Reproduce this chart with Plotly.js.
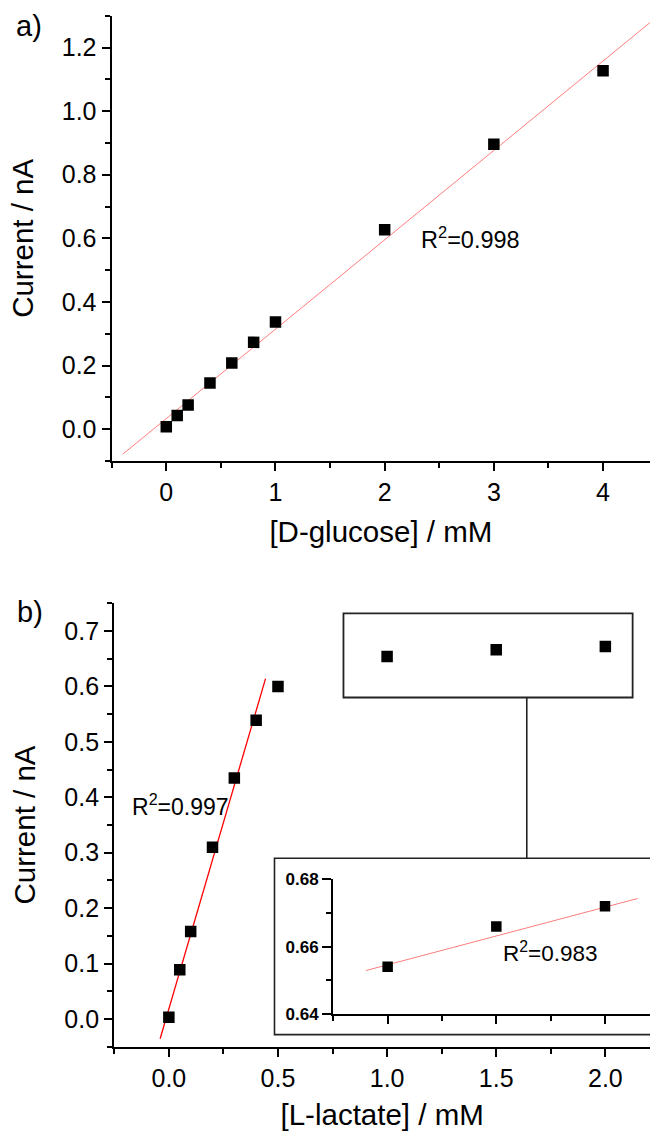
<!DOCTYPE html>
<html><head><meta charset="utf-8">
<script src="https://cdn.plot.ly/plotly-3.0.1.min.js"></script>
<style>html,body{margin:0;padding:0;background:#fff}#chart{width:650px;height:1132px}</style>
</head><body><div id="chart"></div>
<script>
// Panel a) D-glucose
const glucoseConc = [0, 0.1, 0.2, 0.4, 0.6, 0.8, 1, 2, 3, 4];
const glucoseCurrent = [0.008, 0.043, 0.076, 0.145, 0.208, 0.273, 0.337, 0.627, 0.896, 1.127];
const glucoseFitX = [-0.4, 4.5];
const glucoseFitY = [-0.079, 1.298];
const glucoseR2 = "R<sup>2</sup>=0.998";

// Panel b) L-lactate (linear range)
const lactateConc = [0, 0.05, 0.1, 0.2, 0.3, 0.4, 0.5];
const lactateCurrent = [0.003, 0.089, 0.158, 0.310, 0.435, 0.539, 0.600];
const lactateFitX = [-0.04, 0.443];
const lactateFitY = [-0.0356, 0.614];
const lactateR2 = "R<sup>2</sup>=0.997";

// Panel b) L-lactate (high range, also shown in inset)
const lactateHighConc = [1.0, 1.5, 2.0];
const lactateHighCurrent = [0.654, 0.666, 0.672];
const insetFitX = [0.9, 2.15];
const insetFitY = [0.6529, 0.6743];
const insetR2 = "R<sup>2</sup>=0.983";

const xTitleA = "[D-glucose] / mM";
const xTitleB = "[L-lactate] / mM";
const yTitle = "Current / nA";

const FONT = "'Liberation Sans', Arial, sans-serif";
const W = 650, H = 1132;
const px = v => v / W;
const py = v => 1 - v / H;

const sq = {symbol: 'square', size: 11.5, color: '#000', line: {width: 0}};

const traces = [
  {x: glucoseFitX, y: glucoseFitY, xaxis: 'x', yaxis: 'y', mode: 'lines',
   line: {color: 'rgb(255,125,125)', width: 1}, hoverinfo: 'skip'},
  {x: glucoseConc, y: glucoseCurrent, xaxis: 'x', yaxis: 'y', mode: 'markers', marker: sq},
  {x: lactateFitX, y: lactateFitY, xaxis: 'x2', yaxis: 'y2', mode: 'lines',
   line: {color: '#ff0000', width: 1.3}, hoverinfo: 'skip'},
  {x: lactateConc, y: lactateCurrent, xaxis: 'x2', yaxis: 'y2', mode: 'markers', marker: sq},
  {x: lactateHighConc, y: lactateHighCurrent, xaxis: 'x2', yaxis: 'y2', mode: 'markers', marker: sq},
  {x: insetFitX, y: insetFitY, xaxis: 'x3', yaxis: 'y3', mode: 'lines',
   line: {color: 'rgb(255,125,125)', width: 1}, hoverinfo: 'skip'},
  {x: lactateHighConc, y: lactateHighCurrent, xaxis: 'x3', yaxis: 'y3', mode: 'markers',
   marker: {symbol: 'square', size: 10.5, color: '#000', line: {width: 0}}}
];

const baseAxis = {
  showline: true, linecolor: '#000', linewidth: 2.2, mirror: false,
  ticks: 'outside', ticklen: 8, tickwidth: 2, tickcolor: '#000',
  showgrid: false, zeroline: false, fixedrange: true,
  tickfont: {family: FONT, size: 25, color: '#000'}
};
const titleFont = {family: FONT, size: 29.5, color: '#000'};

const layout = {
  width: W, height: H,
  margin: {l: 0, r: 0, t: 0, b: 0},
  paper_bgcolor: '#fff', plot_bgcolor: 'rgba(0,0,0,0)',
  showlegend: false,
  font: {family: FONT, color: '#000'},
  xaxis: Object.assign({}, baseAxis, {
    domain: [px(111.7), 1], anchor: 'y', range: [-0.5, 4.43],
    tick0: 0, dtick: 1,
    minor: {dtick: 0.5, tick0: 0, ticks: 'outside', ticklen: 5, tickwidth: 2, tickcolor: '#000', showgrid: false},
    title: {text: xTitleA, font: titleFont, standoff: 16}
  }),
  yaxis: Object.assign({}, baseAxis, {
    domain: [py(461), py(15.7)], anchor: 'x', range: [-0.1, 1.3],
    tick0: 0, dtick: 0.2, tickformat: '.1f',
    minor: {dtick: 0.1, tick0: 0, ticks: 'outside', ticklen: 5, tickwidth: 2, tickcolor: '#000', showgrid: false},
    title: {text: yTitle, font: titleFont, standoff: 20}
  }),
  xaxis2: Object.assign({}, baseAxis, {
    domain: [px(114.3), 1], anchor: 'y2', range: [-0.25, 2.2046],
    tick0: 0, dtick: 0.5, tickformat: '.1f',
    minor: {dtick: 0.25, tick0: 0, ticks: 'outside', ticklen: 5, tickwidth: 2, tickcolor: '#000', showgrid: false},
    title: {text: xTitleB, font: titleFont, standoff: 14}
  }),
  yaxis2: Object.assign({}, baseAxis, {
    domain: [py(1046.7), py(603.3)], anchor: 'x2', range: [-0.05, 0.75],
    tick0: 0, dtick: 0.1, tickformat: '.1f',
    minor: {dtick: 0.05, tick0: 0, ticks: 'outside', ticklen: 5, tickwidth: 2, tickcolor: '#000', showgrid: false},
    title: {text: yTitle, font: titleFont, standoff: 20}
  }),
  xaxis3: Object.assign({}, baseAxis, {
    domain: [px(333.3), 1], anchor: 'y3', range: [0.75, 2.207],
    tick0: 0, dtick: 0.5, showticklabels: false, linewidth: 2.2,
    minor: {dtick: 0.25, tick0: 0, ticks: 'outside', ticklen: 5, tickwidth: 2, tickcolor: '#000', showgrid: false}
  }),
  yaxis3: Object.assign({}, baseAxis, {
    domain: [py(1014), py(879.3)], anchor: 'x3', range: [0.64, 0.68],
    tick0: 0.64, dtick: 0.02, tickformat: '.2f', ticklen: 9,
    tickfont: {family: FONT, size: 17, color: '#000', weight: 'bold'},
    minor: {dtick: 0.01, tick0: 0.64, ticks: 'outside', ticklen: 5, tickwidth: 2, tickcolor: '#000', showgrid: false}
  }),
  shapes: [
    {type: 'rect', xref: 'x2', yref: 'y2', x0: 0.8, x1: 2.125, y0: 0.58, y1: 0.732,
     line: {color: '#222', width: 1.8}, fillcolor: 'rgba(0,0,0,0)', layer: 'below'},
    {type: 'line', xref: 'x2', yref: 'y2', x0: 1.64, x1: 1.64, y0: 0.58, y1: 0.29,
     line: {color: '#222', width: 1.6}},
    {type: 'rect', xref: 'x2', yref: 'y2', x0: 0.484, x1: 2.4, y0: -0.0283, y1: 0.29,
     line: {color: '#222', width: 1.6}, fillcolor: '#fff', layer: 'below'}
  ],
  annotations: [
    {text: 'a)', xref: 'paper', yref: 'paper', x: px(14), y: py(26), xanchor: 'left', yanchor: 'middle',
     showarrow: false, font: {family: FONT, size: 29, color: '#000'}},
    {text: 'b)', xref: 'paper', yref: 'paper', x: px(15), y: py(612), xanchor: 'left', yanchor: 'middle',
     showarrow: false, font: {family: FONT, size: 29, color: '#000'}},
    {text: glucoseR2, xref: 'x', yref: 'y', x: 2.31, y: 0.601, xanchor: 'left', yanchor: 'middle',
     showarrow: false, font: {family: FONT, size: 23.5, color: '#000'}},
    {text: lactateR2, xref: 'x2', yref: 'y2', x: -0.178, y: 0.386, xanchor: 'left', yanchor: 'middle',
     showarrow: false, font: {family: FONT, size: 23, color: '#000'}},
    {text: insetR2, xref: 'x3', yref: 'y3', x: 1.52, y: 0.6585, xanchor: 'left', yanchor: 'middle',
     showarrow: false, font: {family: FONT, size: 22.5, color: '#000'}}
  ]
};

Plotly.newPlot('chart', traces, layout, {staticPlot: true, displayModeBar: false});
</script>
</body></html>
